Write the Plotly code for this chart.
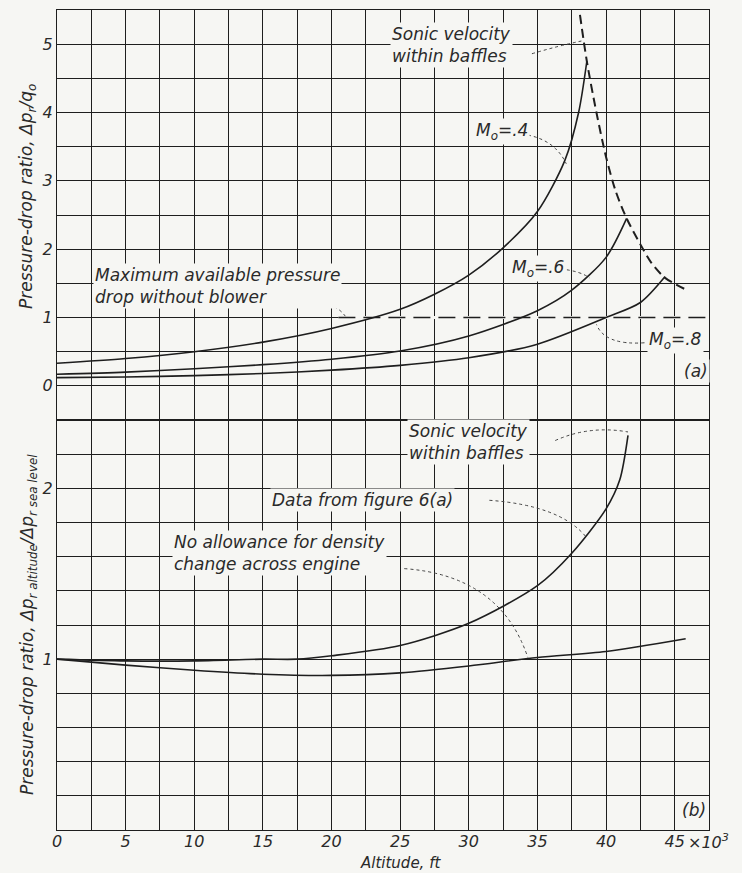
import plotly.graph_objects as go

# ---------------- data (altitude in thousands of ft) ----------------
# Panel (a): pressure-drop ratio dp_r/q_o
m4_alt = [0, 5, 10, 15, 20, 25, 27.5, 30, 32.5, 35, 37, 38, 38.6]
m4_val = [0.33, 0.40, 0.50, 0.64, 0.84, 1.12, 1.34, 1.62, 2.02, 2.55, 3.3, 4.0, 4.75]
m6_alt = [0, 5, 10, 15, 20, 25, 30, 35, 37.5, 40, 41.5]
m6_val = [0.17, 0.20, 0.25, 0.31, 0.39, 0.51, 0.73, 1.1, 1.4, 1.88, 2.45]
m8_alt = [0, 5, 10, 15, 20, 25, 30, 35, 40, 42.5, 44.3]
m8_val = [0.12, 0.13, 0.15, 0.18, 0.23, 0.30, 0.41, 0.61, 1.0, 1.22, 1.6]
sonic_alt = [38.1, 38.6, 39.3, 40.0, 40.7, 41.5, 42.5, 43.3, 44.3, 45.9]
sonic_val = [5.43, 4.75, 4.0, 3.35, 2.85, 2.45, 2.07, 1.8, 1.58, 1.40]
maxdp_alt = [20.5, 47.5]
maxdp_val = [1.0, 1.0]

# Panel (b): dp_r altitude / dp_r sea level
fig6_alt = [0, 5, 10, 15, 17.5, 20, 25, 30, 35, 37.5, 40, 41, 41.6]
fig6_val = [1.0, 0.99, 0.99, 1.0, 1.0, 1.02, 1.08, 1.21, 1.43, 1.62, 1.88, 2.05, 2.31]
noallow_alt = [0, 5, 10, 15, 20, 25, 30, 35, 40, 45.8]
noallow_val = [1.0, 0.965, 0.935, 0.912, 0.905, 0.92, 0.96, 1.01, 1.045, 1.12]

x_ticks = [i * 2.5 for i in range(20)]
x_labels = [str(int(v)) if v % 5 == 0 else "" for v in x_ticks]
ya_ticks = [-0.5 + 0.5 * i for i in range(13)]
ya_labels = [str(int(v)) if v == int(v) and v >= 0 else "" for v in ya_ticks]
yb_ticks = [round(0.2 * i, 1) for i in range(13)]
yb_labels = [str(int(v)) if v in (1.0, 2.0) else "" for v in yb_ticks]

BG = "#f6f6f3"
INK = "#1e1e1e"
FONT = dict(family="DejaVu Sans", size=17, color="#2a2a2a", style="italic", weight=300)
TICKFONT = dict(FONT, size=16)

fig = go.Figure()
line = dict(color=INK, width=1.6, shape="spline", smoothing=0.8)

# panel (a)
fig.add_trace(go.Scatter(x=maxdp_alt, y=maxdp_val, xaxis="x2", yaxis="y2", mode="lines",
                         line=dict(color=BG, width=3)))
fig.add_trace(go.Scatter(x=maxdp_alt, y=maxdp_val, xaxis="x2", yaxis="y2", mode="lines",
                         line=dict(color=INK, width=1.4, dash="17px,8px")))
for xs, ys in [(m4_alt, m4_val), (m6_alt, m6_val), (m8_alt, m8_val)]:
    fig.add_trace(go.Scatter(x=xs, y=ys, xaxis="x2", yaxis="y2", mode="lines", line=line))
fig.add_trace(go.Scatter(x=sonic_alt, y=sonic_val, xaxis="x2", yaxis="y2", mode="lines",
                         line=dict(color=INK, width=2, dash="9px,5px", shape="spline", smoothing=0.8)))

# panel (b)
for xs, ys in [(fig6_alt, fig6_val), (noallow_alt, noallow_val)]:
    fig.add_trace(go.Scatter(x=xs, y=ys, xaxis="x", yaxis="y", mode="lines", line=line))

ax_common = dict(range=[0, 47.5], tickvals=x_ticks, showgrid=True, gridcolor=INK, gridwidth=1,
                 showline=True, linecolor=INK, linewidth=1.3, mirror=True, zeroline=False,
                 ticks="", tickfont=TICKFONT)
fig.update_layout(
    width=742, height=873, showlegend=False,
    paper_bgcolor=BG, plot_bgcolor=BG,
    margin=dict(l=57, r=33, t=10, b=43),
    xaxis=dict(**ax_common, ticktext=x_labels, anchor="y", ticklabelstandoff=-3),
    xaxis2=dict(**ax_common, matches="x", anchor="y2", showticklabels=False),
    yaxis=dict(domain=[0, 0.5], range=[0, 2.4], tickvals=yb_ticks, ticktext=yb_labels,
               showgrid=True, gridcolor=INK, gridwidth=1, showline=True, linecolor=INK,
               linewidth=1.3, mirror=True, zeroline=False, ticks="", tickfont=TICKFONT),
    yaxis2=dict(domain=[0.5, 1], range=[-0.5, 5.5], tickvals=ya_ticks, ticktext=ya_labels,
                showgrid=True, gridcolor=INK, gridwidth=1, showline=True, linecolor=INK,
                linewidth=1.3, mirror=True, zeroline=False, ticks="", tickfont=TICKFONT, anchor="x2"),
)

def note(text, x, y, ax="x2", ay="y2", **kw):
    fig.add_annotation(text=text, x=x, y=y, xref=ax, yref=ay, xanchor="left", yanchor="middle",
                       align="left", showarrow=False, font=FONT, bgcolor=BG, borderpad=1, **kw)

note("Sonic velocity<br>within baffles", 24.25, 4.99)
note("M<sub>o</sub>=.4", 30.4, 3.72)
note("M<sub>o</sub>=.6", 33.0, 1.71)
note("M<sub>o</sub>=.8", 43.0, 0.66)
note("(a)", 45.5, 0.22)
note("Maximum available pressure<br>drop without blower", 2.6, 1.46)
note("Sonic velocity<br>within baffles", 25.5, 2.27, "x", "y")
note("Data from figure 6(a)", 15.5, 1.93, "x", "y")
note("No allowance for density<br>change across engine", 8.4, 1.62, "x", "y")
note("(b)", 45.4, 0.12, "x", "y")

def leader(p0, c, p1, ax="x2", ay="y2"):
    fig.add_shape(type="path", xref=ax, yref=ay,
                  path=f"M {p0[0]},{p0[1]} Q {c[0]},{c[1]} {p1[0]},{p1[1]}",
                  line=dict(color="#444", width=1, dash="dot"))

leader((34.6, 4.86), (36.6, 4.98), (38.3, 5.05))
leader((34.3, 3.67), (36.3, 3.59), (37.1, 3.25))
leader((36.7, 1.71), (38.1, 1.68), (38.8, 1.58))
leader((42.8, 0.63), (39.9, 0.59), (39.3, 0.9))
leader((18.1, 1.27), (20.2, 1.24), (21.0, 1.02))
leader((36.3, 2.28), (38.8, 2.37), (41.6, 2.33), "x", "y")
leader((31.5, 1.93), (36.6, 1.90), (38.5, 1.72), "x", "y")
leader((25.3, 1.53), (32.3, 1.49), (34.3, 1.01), "x", "y")

# axis titles and multiplier
fig.add_annotation(text="Pressure-drop ratio, Δp<sub>r</sub>/q<sub>o</sub>", xref="paper", yref="paper",
                   x=(28 - 57) / 652, y=(830 - 197) / 820, xanchor="center", yanchor="middle",
                   textangle=-90, showarrow=False, font=FONT)
fig.add_annotation(text="Pressure-drop ratio, Δp<sub>r altitude</sub>/Δp<sub>r sea level</sub>",
                   xref="paper", yref="paper", x=(28 - 57) / 652, y=(830 - 625) / 820,
                   xanchor="center", yanchor="middle", textangle=-90,
                   showarrow=False, font=FONT)
fig.add_annotation(text="Altitude, ft", xref="paper", yref="paper", x=(400 - 57) / 652,
                   y=-(863 - 830) / 820, xanchor="center", yanchor="middle",
                   showarrow=False, font=dict(TICKFONT, size=15))
fig.add_annotation(text="×10<sup>3</sup>", xref="paper", yref="paper", x=(686 - 57) / 652,
                   y=-(841 - 830) / 820, xanchor="left", yanchor="middle",
                   showarrow=False, font=TICKFONT)

fig.write_html("out.html")
